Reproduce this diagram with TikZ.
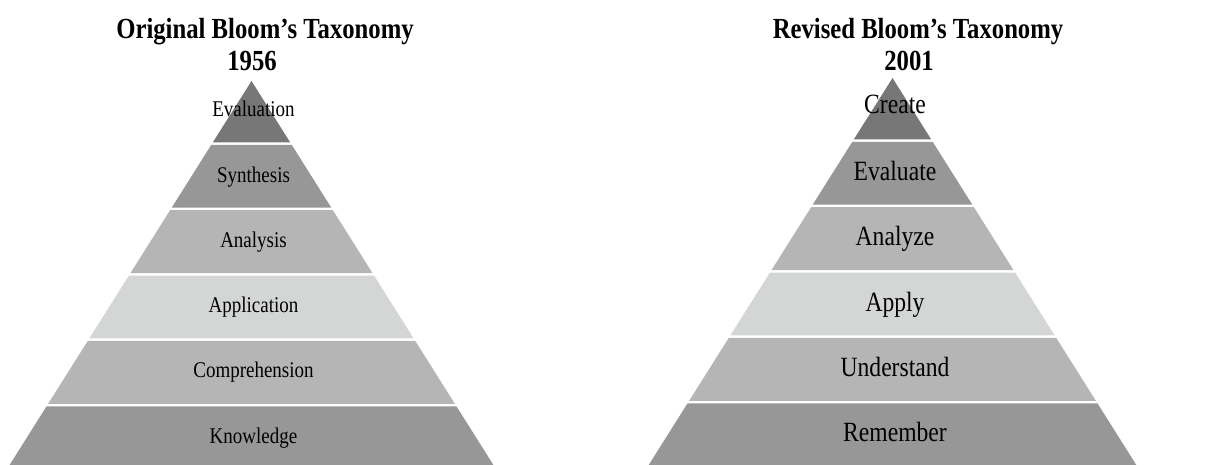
\documentclass[tikz,border=0pt]{standalone}
\usepackage{fontspec}
\usepackage{graphicx}
\setmainfont{Liberation Serif}
\definecolor{tierA}{HTML}{777777}
\definecolor{tierB}{HTML}{979797}
\definecolor{tierC}{HTML}{B5B5B5}
\definecolor{tierD}{HTML}{D4D6D5}

% Type is set slightly tall and narrow
\newcommand\tallset[1]{\scalebox{1}[1.18]{#1}}

% Draw a six-tier pyramid: #1 = apex x, #2 = apex y (y grows downward)
\newcommand\drawpyramid[2]{%
  \foreach \i/\col in {0/tierA,1/tierB,2/tierC,3/tierD,4/tierC,5/tierB}{
    \pgfmathsetmacro\yt{#2 + (\i==0 ? 0 : 62.5+(\i-1)*65.4+1.25)}
    \pgfmathsetmacro\yb{#2 + 62.5 + \i*65.4 - 1.25}
    \pgfmathsetmacro\wt{0.63*(\yt-#2)}
    \pgfmathsetmacro\wb{0.63*(\yb-#2)}
    \fill[\col] (#1-\wt,\yt) -- (#1+\wt,\yt) -- (#1+\wb,\yb) -- (#1-\wb,\yb) -- cycle;
  }}

\begin{document}
\begin{tikzpicture}[x=1pt,y=-1pt,
  lefttxt/.style={anchor=base, inner sep=0pt, font=\fontsize{19}{22}\selectfont},
  righttxt/.style={anchor=base, inner sep=0pt, font=\fontsize{23.6}{28}\selectfont},
  titletxt/.style={anchor=base, inner sep=0pt, font=\fontsize{24.7}{29}\selectfont\bfseries}]
\useasboundingbox (0,0) rectangle (1225,464);
\clip (0,0) rectangle (1225,464);

% pyramids
\drawpyramid{251.5}{81}
\drawpyramid{892.5}{78}

% titles
\node[titletxt] (ltitle) at (265,38.5) {\tallset{Original Bloom’s Taxonomy}};
\node[titletxt] (lyear)  at (252,70)   {\tallset{1956}};
\node[titletxt] (rtitle) at (918,38.5) {\tallset{Revised Bloom’s Taxonomy}};
\node[titletxt] (ryear)  at (909,70)   {\tallset{2001}};

% original levels
\node[lefttxt] (evaluation)    at (253.5,116) {\tallset{Evaluation}};
\node[lefttxt] (synthesis)     at (253.5,182) {\tallset{Synthesis}};
\node[lefttxt] (analysis)      at (253.5,247) {\tallset{Analysis}};
\node[lefttxt] (application)   at (253.5,312) {\tallset{Application}};
\node[lefttxt] (comprehension) at (253.5,377) {\tallset{Comprehension}};
\node[lefttxt] (knowledge)     at (253.5,443) {\tallset{Knowledge}};

% revised levels
\node[righttxt] (create)     at (895,113) {\tallset{Create}};
\node[righttxt] (evaluate)   at (895,180) {\tallset{Evaluate}};
\node[righttxt] (analyze)    at (895,245) {\tallset{Analyze}};
\node[righttxt] (apply)      at (895,311) {\tallset{Apply}};
\node[righttxt] (understand) at (895,376) {\tallset{Understand}};
\node[righttxt] (remember)   at (895,441) {\tallset{Remember}};
\end{tikzpicture}
\end{document}
